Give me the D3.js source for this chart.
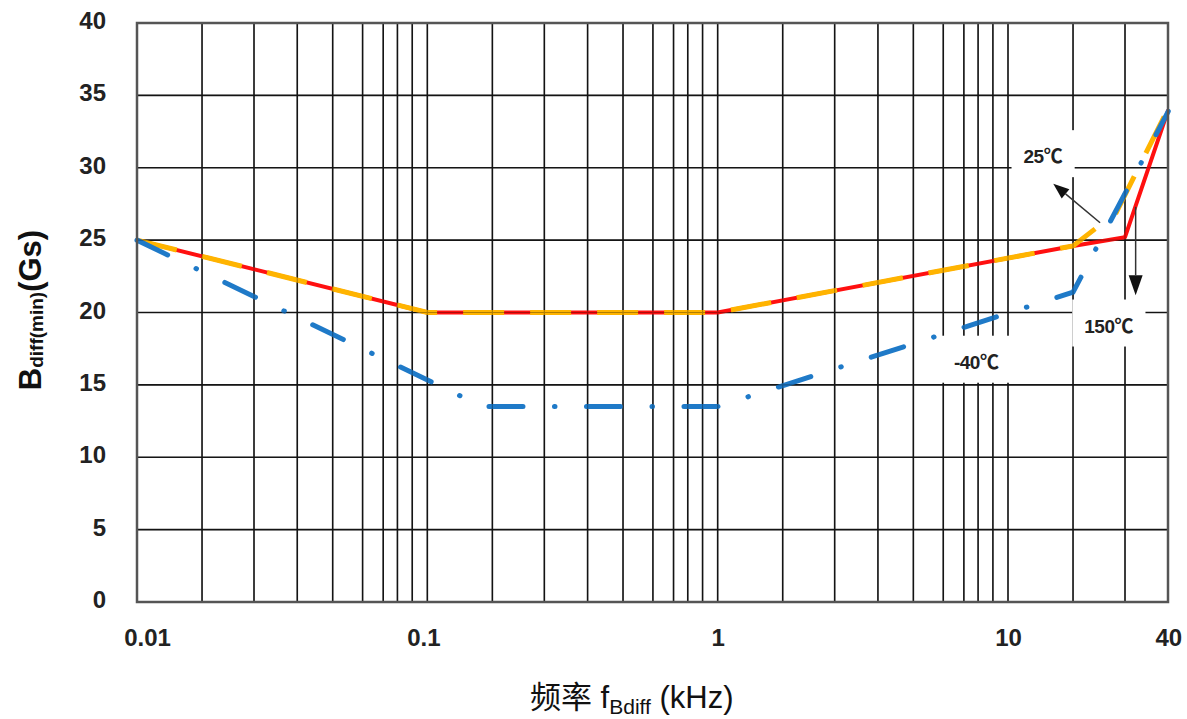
<!DOCTYPE html>
<html><head><meta charset="utf-8">
<script src="https://cdn.jsdelivr.net/npm/d3@7"></script>
<style>body{margin:0;background:#fff;} svg{display:block;}</style>
</head><body><svg id="c" width="1187" height="719"></svg>
<script>
// ---- data ----
const xTickValues = [0.01, 0.1, 1, 10, 40];
const xTickLabels = ["0.01", "0.1", "1", "10", "40"];
const yTickValues = [0, 5, 10, 15, 20, 25, 30, 35, 40];
const decades = [0.01, 0.1, 1, 10];
const gridMultipliers = [1, 2, 3, 4, 5, 6, 7, 8, 9];

const freq150 = [0.01, 0.1, 1, 20, 30, 40];
const val150  = [25, 20, 20, 24.6, 25.2, 34];
const freq25  = [0.01, 0.1, 1, 20, 28, 40];
const val25   = [25, 20, 20, 24.6, 26.9, 34.1];
const freqM40 = [0.01, 0.18, 1, 20, 40];
const valM40  = [25, 13.5, 13.5, 21.4, 33.9];

const labelNums  = ["25", "150", "-40"];
const labelUnit  = "℃";
const labelFreq  = [14.5, 26.4, 7.86];
const labelVal   = [30.8, 19.1, 16.6];

const arrowFrom = [[24.7, 26.2], [32.2, 27.3]];
const arrowTo   = [[16.2, 28.9], [32.2, 21.2]];

// ---- layout ----
const pL = 137, pR = 1168, pT = 23, pB = 602;
// the drawn grid of the original is not exactly logarithmic: fractional positions inside one decade
const decadeFrac = [0, 0.224, 0.403, 0.552, 0.674, 0.777, 0.848, 0.897, 0.948];
const decW = (1008 - pL) / 3;

const dom = [], rng = [];
decades.forEach((d, i) => {
  gridMultipliers.forEach((m, j) => {
    const v = +(m * d).toPrecision(6);
    if (v <= 40) { dom.push(v); rng.push(pL + i * decW + decadeFrac[j] * decW); }
  });
});

const x = d3.scaleLog().domain(dom).range(rng);
const y = d3.scaleLinear().domain([0, 40]).range([pB, pT]);

const svg = d3.select("#c");
const FONT = "'Liberation Sans', Arial, 'DejaVu Sans', 'Noto Sans CJK SC', sans-serif";

function drawGrid(g) {
  g.selectAll("line.v").data(dom.filter(v => v > 0.01 && v < 40)).join("line")
    .attr("class", "v")
    .attr("x1", d => x(d)).attr("x2", d => x(d)).attr("y1", pT).attr("y2", pB);
  g.selectAll("line.h").data(yTickValues.filter(v => v > 0 && v < 40)).join("line")
    .attr("class", "h")
    .attr("x1", pL).attr("x2", pR).attr("y1", d => y(d)).attr("y2", d => y(d));
}

const gridUnder = svg.append("g").attr("stroke", "#1c1c1c").attr("stroke-width", 1.6);
drawGrid(gridUnder);

const line = d3.line().x(d => x(d[0])).y(d => y(d[1]));
const zip = (a, b) => a.map((v, i) => [v, b[i]]);

svg.append("path").datum(zip(freq150, val150)).attr("d", line)
  .attr("fill", "none").attr("stroke", "#ff1010").attr("stroke-width", 4).attr("stroke-linejoin", "round");
svg.append("path").datum(zip(freq25, val25)).attr("d", line)
  .attr("fill", "none").attr("stroke", "#ffb400").attr("stroke-width", 5)
  .attr("stroke-dasharray", "41,26");
svg.append("path").datum(zip(freqM40, valM40)).attr("d", line)
  .attr("fill", "none").attr("stroke", "#1f7ac8").attr("stroke-width", 5)
  .attr("stroke-linecap", "round").attr("stroke-dasharray", "34,31.5,0.5,31.5");

const gridOver = svg.append("g").attr("stroke", "#000").attr("stroke-width", 1.2).attr("opacity", 0.3);
drawGrid(gridOver);

// frame
svg.append("rect").attr("x", pL).attr("y", pT).attr("width", pR - pL).attr("height", pB - pT)
  .attr("fill", "none").attr("stroke", "#555").attr("stroke-width", 2.5);

// axes
const xAxis = svg.append("g").attr("transform", `translate(0,${pB})`)
  .call(d3.axisBottom(x).tickValues(xTickValues).tickFormat((d, i) => xTickLabels[i]).tickSize(0));
xAxis.select(".domain").remove();
xAxis.selectAll("text").attr("y", 44).attr("dy", 0)
  .attr("dx", (d, i) => i === 0 ? 10 : (i === 1 ? -4 : 0))
  .style("font-family", FONT).style("font-weight", "bold").style("font-size", "24px").attr("fill", "#222");

const yAxis = svg.append("g").attr("transform", `translate(${pL},0)`)
  .call(d3.axisLeft(y).tickValues(yTickValues).tickSize(0).tickPadding(31));
yAxis.select(".domain").remove();
yAxis.selectAll("text").attr("dy", "0.23em")
  .style("font-family", FONT).style("font-weight", "bold").style("font-size", "24px").attr("fill", "#222");

// axis titles
const yt = svg.append("text").attr("transform", "translate(41,310) rotate(-90)")
  .attr("text-anchor", "middle").style("font-family", FONT).style("font-weight", "bold")
  .style("font-size", "31px").attr("fill", "#111");
yt.append("tspan").text("B");
yt.append("tspan").style("font-size", "19px").attr("dy", 2).text("diff(min)");
yt.append("tspan").attr("dy", -2).text("(Gs)");

const xt = svg.append("text").attr("x", 530).attr("y", 708)
  .style("font-family", "'Liberation Sans', Arial, 'Noto Sans CJK SC', sans-serif")
  .style("font-size", "31px").attr("fill", "#111");
xt.append("tspan").text("频率 f");
xt.append("tspan").style("font-size", "21px").attr("dy", 6).text("Bdiff");
xt.append("tspan").attr("dy", -6).text(" (kHz)");

// annotation labels with white boxes
const labG = svg.append("g");
labelNums.forEach((t, i) => {
  const cx = x(labelFreq[i]), cy = y(labelVal[i]);
  const g = labG.append("g");
  const r = g.append("rect").attr("fill", "#fff");
  const tx = g.append("text").attr("x", cx).attr("y", cy + 7).attr("text-anchor", "middle")
    .style("font-family", FONT).style("font-weight", "bold").style("font-size", "19px")
    .style("letter-spacing", "-0.5px").attr("fill", "#222");
  tx.append("tspan").text(t);
  tx.append("tspan").style("font-family", "'Noto Sans CJK SC', 'DejaVu Sans', sans-serif").text(labelUnit);
  const bb = tx.node().getBBox();
  r.attr("x", bb.x - 12).attr("y", bb.y - 11).attr("width", bb.width + 24).attr("height", bb.height + 20);
});

// arrows
arrowFrom.forEach((p, i) => {
  const x1 = x(p[0]), y1 = y(p[1]), x2 = x(arrowTo[i][0]), y2 = y(arrowTo[i][1]);
  const L = i === 0 ? 16 : 20, Wd = i === 0 ? 6 : 7;
  const dx = x2 - x1, dy = y2 - y1, len = Math.hypot(dx, dy);
  const ux = dx / len, uy = dy / len;
  const bx = x2 - ux * L, by = y2 - uy * L;
  svg.append("line").attr("x1", x1).attr("y1", y1).attr("x2", bx).attr("y2", by)
    .attr("stroke", "#333").attr("stroke-width", 1.5);
  svg.append("path").attr("d", `M${x2},${y2}L${bx - uy * Wd},${by + ux * Wd}L${bx + uy * Wd},${by - ux * Wd}Z`)
    .attr("fill", "#111");
});
</script>
</body></html>
